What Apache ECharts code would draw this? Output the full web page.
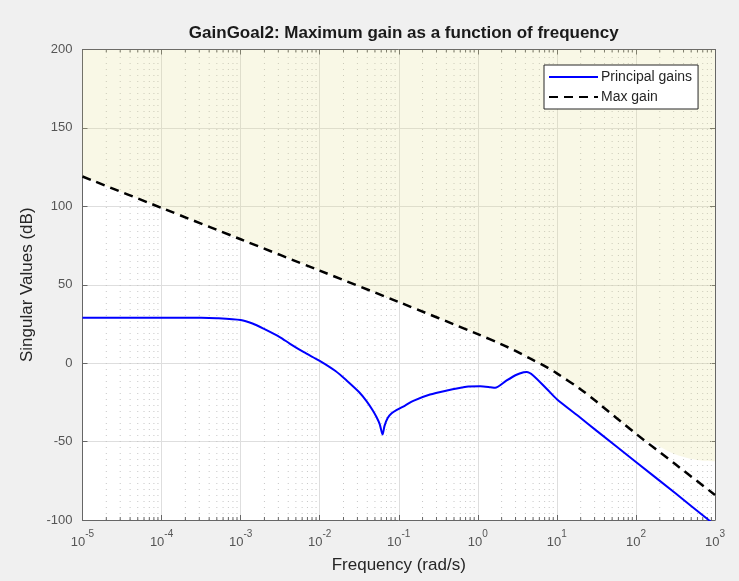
<!DOCTYPE html>
<html>
<head>
<meta charset="utf-8">
<script src="https://cdn.jsdelivr.net/npm/echarts@6/dist/echarts.min.js"></script>
<style>
  html, body { margin: 0; padding: 0; background: #f0f0f0; }
  #chart { width: 739px; height: 581px; }
</style>
</head>
<body>
<div id="chart"></div>
<script>
// Frequencies are stored as log10(rad/s); values are in dB.
const gainLogW = [-5, -4, -3.5, -3.3, -3.0, -2.85, -2.71, -2.5, -2.38, -2.2, -2.0, -1.8, -1.66, -1.5, -1.41,
  -1.33, -1.28, -1.24, -1.205, -1.18, -1.14, -1.09, -1.03, -0.92, -0.816, -0.605, -0.39, -0.2, -0.12, 0.03,
  0.16, 0.218, 0.365, 0.49, 0.58, 0.618, 0.70, 0.87, 1.0, 1.29, 1.5, 2.0, 2.5, 2.92, 3.0];
const gainDb = [29, 29, 29, 28.7, 27.5, 25.3, 22, 16.5, 12.5, 7, 1.5, -5, -11, -18.5, -24,
  -30, -34.5, -39, -45.5, -40, -35, -32, -30, -27, -24, -20, -17.4, -15.5, -14.8, -14.7,
  -15.3, -15.7, -11, -7.4, -5.8, -5.6, -7.8, -16.3, -23, -34.5, -43, -63, -83, -100, -103];

const maxLogW = [-5, -4, -3, -2, -1, 0, 0.3, 0.47, 0.66, 0.87, 1.0, 1.29, 1.5, 2.0, 2.5, 3.0];
const maxDb = [119, 99, 79, 59, 39, 18.5, 12, 8, 3, -2.5, -6.5, -16.3, -24.5, -45, -64.5, -84];

// Lower edge of the shaded (infeasible) region
const shadeLogW = [-5, -4, -3, -2, -1, 0, 0.3, 0.47, 0.66, 0.87, 1.0, 1.29, 1.5, 2.0, 2.1, 2.27, 2.48, 2.69, 2.85, 3.0];
const shadeDb = [119, 99, 79, 59, 39, 18.5, 12, 8, 3, -2.5, -6.5, -16.3, -24.5, -45, -48.5, -52.5, -57.8, -61, -62.2, -62.5];

const xTickExponents = [-5, -4, -3, -2, -1, 0, 1, 2, 3];
const minorMantissas = [2, 3, 4, 5, 6, 7, 8, 9];
const yTicks = [-100, -50, 0, 50, 100, 150, 200];

const toPairs = (lw, db) => lw.map((l, i) => [Math.pow(10, l), db[i]]);

const minorFreqs = [];
xTickExponents.slice(0, -1).forEach(e => {
  minorMantissas.forEach(m => minorFreqs.push([m * Math.pow(10, e), 0]));
});

const FONT = '"Liberation Sans", Arial, Helvetica, sans-serif';
const X_MIN = Math.pow(10, xTickExponents[0]);
const X_MAX = Math.pow(10, xTickExponents[xTickExponents.length - 1]);
const Y_MIN = yTicks[0], Y_MAX = yTicks[yTicks.length - 1];

const chart = echarts.init(document.getElementById('chart'), null, { renderer: 'canvas' });

const xLabel = {
  fontFamily: FONT,
  margin: 9,
  formatter: v => '{b|10}{e|' + Math.round(Math.log10(v)) + '}',
  rich: {
    b: { fontSize: 13, color: '#555555', fontFamily: FONT, lineHeight: 20, verticalAlign: 'bottom' },
    e: { fontSize: 10, color: '#555555', fontFamily: FONT, lineHeight: 11, verticalAlign: 'top' }
  }
};

const axisColor = '#666666';

chart.setOption({
  backgroundColor: '#f0f0f0',
  animation: false,
  title: {
    text: 'GainGoal2: Maximum gain as a function of frequency',
    left: 398.75,
    top: 20,
    textAlign: 'center',
    textStyle: { fontFamily: FONT, fontSize: 17, fontWeight: 'bold', color: '#1a1a1a' }
  },
  legend: {
    data: ['Principal gains', 'Max gain'],
    orient: 'vertical',
    left: 544,
    top: 65,
    padding: [5, 6, 5, 4],
    itemWidth: 49,
    itemHeight: 14,
    itemGap: 6,
    backgroundColor: '#ffffff',
    borderColor: '#262626',
    borderWidth: 1,
    borderRadius: 0,
    itemStyle: { color: 'rgba(0,0,0,0)', borderColor: 'rgba(0,0,0,0)', borderWidth: 0, opacity: 0 },
    textStyle: { fontFamily: FONT, fontSize: 14, color: '#262626', padding: [0, 0, 0, -2] }
  },
  grid: { left: 82.5, right: 24, top: 49.5, bottom: 61, containLabel: false, backgroundColor: '#ffffff', show: true, borderWidth: 0 },
  xAxis: [{
    type: 'log', logBase: 10, min: X_MIN, max: X_MAX, splitNumber: 8,
    name: 'Frequency (rad/s)', nameLocation: 'middle', nameGap: 37,
    nameTextStyle: { fontFamily: FONT, fontSize: 17, color: '#262626' },
    axisLine: { show: true, onZero: false, lineStyle: { color: axisColor, width: 1 } },
    axisTick: { show: true, inside: true, length: 5, lineStyle: { color: axisColor } },
    axisLabel: xLabel,
    splitLine: { show: true, lineStyle: { color: '#dedede', width: 1 } },
    minorTick: { show: false }
  }, {
    type: 'log', logBase: 10, min: X_MIN, max: X_MAX, splitNumber: 8, position: 'top',
    axisLine: { show: true, onZero: false, lineStyle: { color: axisColor, width: 1 } },
    axisTick: { show: true, inside: true, length: 5, lineStyle: { color: axisColor } },
    axisLabel: { show: false },
    splitLine: { show: false }
  }],
  yAxis: [{
    type: 'value', min: Y_MIN, max: Y_MAX, interval: 50,
    name: 'Singular Values (dB)', nameLocation: 'middle', nameGap: 37,
    nameTextStyle: { fontFamily: FONT, fontSize: 17, color: '#262626' },
    axisLine: { show: true, onZero: false, lineStyle: { color: axisColor, width: 1 } },
    axisTick: { show: true, inside: true, length: 5, lineStyle: { color: axisColor } },
    axisLabel: { fontFamily: FONT, fontSize: 13, color: '#555555', margin: 10 },
    splitLine: { show: true, lineStyle: { color: '#dedede', width: 1 } }
  }, {
    type: 'value', min: Y_MIN, max: Y_MAX, interval: 50, position: 'right',
    axisLine: { show: true, onZero: false, lineStyle: { color: axisColor, width: 1 } },
    axisTick: { show: true, inside: true, length: 5, lineStyle: { color: axisColor } },
    axisLabel: { show: false },
    splitLine: { show: false }
  }],
  series: [
    {
      // dotted minor grid and minor ticks on the log frequency axis
      type: 'custom',
      silent: true,
      z: 1,
      data: minorFreqs,
      encode: { x: 0, y: 1 },
      renderItem: (params, api) => {
        const f = api.value(0);
        const bot = api.coord([f, Y_MIN]);
        const top = api.coord([f, Y_MAX]);
        const tickStyle = { stroke: axisColor, lineWidth: 1 };
        return {
          type: 'group',
          children: [
            { type: 'line', shape: { x1: bot[0], y1: bot[1], x2: top[0], y2: top[1] },
              style: { stroke: '#c6c6c6', lineWidth: 1, lineDash: [1, 5] } },
            { type: 'line', shape: { x1: bot[0], y1: bot[1], x2: bot[0], y2: bot[1] - 3 }, style: tickStyle },
            { type: 'line', shape: { x1: top[0], y1: top[1], x2: top[0], y2: top[1] + 3 }, style: tickStyle }
          ]
        };
      }
    },
    {
      name: 'shade',
      type: 'line',
      z: 2,
      silent: true,
      showSymbol: false,
      symbol: 'none',
      smooth: 0.3,
      lineStyle: { width: 0, color: 'rgba(0,0,0,0)' },
      areaStyle: { origin: 'end', color: 'rgba(228,222,138,0.3)' },
      data: toPairs(shadeLogW, shadeDb)
    },
    {
      name: 'Principal gains',
      type: 'line',
      z: 4,
      showSymbol: false,
      symbol: 'none',
      smooth: 0.25,
      clip: true,
      color: '#0000ff',
      lineStyle: { color: '#0000ff', width: 2 },
      data: toPairs(gainLogW, gainDb)
    },
    {
      name: 'Max gain',
      type: 'line',
      z: 3,
      showSymbol: false,
      symbol: 'none',
      smooth: 0.3,
      color: '#000000',
      lineStyle: { color: '#000000', width: 2.5, type: [9, 6] },
      data: toPairs(maxLogW, maxDb)
    }
  ]
});
</script>
</body>
</html>
